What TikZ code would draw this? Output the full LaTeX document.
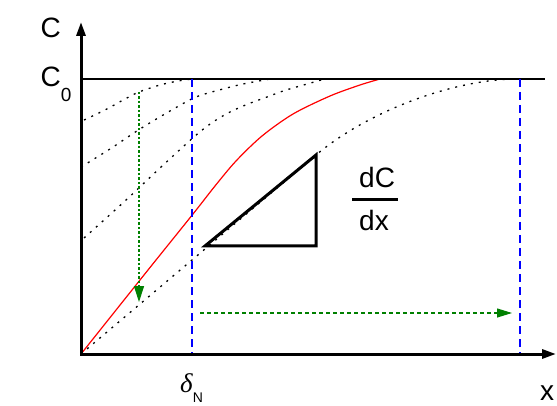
\documentclass[tikz,border=0pt]{standalone}
\usepackage{fontspec}
\setmainfont{Liberation Sans}
\newfontfamily\greekserif{Liberation Serif}
\usetikzlibrary{arrows.meta}

\definecolor{profgreen}{RGB}{0,128,0}

\tikzset{
  axis/.style={line width=3pt, line join=miter, {Triangle[length=14pt,width=9pt]}-{Triangle[length=14pt,width=9pt]}},
  profile/.style={line width=1.3pt, dash pattern=on 2pt off 6pt},
  nernst/.style={blue, line width=1.4pt, dash pattern=on 8pt off 5pt},
  shiftdown/.style={profgreen, line width=1.2pt, dash pattern=on 2.5pt off 2pt, -{Triangle[length=16pt,width=10pt]}},
  shiftright/.style={profgreen, line width=1.1pt, dash pattern=on 4pt off 3pt, -{Triangle[length=15pt,width=9pt]}},
  lbl/.style={anchor=base west, inner sep=0pt, font=\fontsize{28}{28}\selectfont},
}

\begin{document}
\begin{tikzpicture} [x=1pt,y=-1pt]

\useasboundingbox (0,0) rectangle (557,406);
%\draw [step=50, dotted] (0,0) grid (557,406);

\coordinate (O) at (81,354);
\coordinate (ytop) at (81,22);
\coordinate (xend) at (556,354);
\coordinate (c0left) at (81,79);
\coordinate (c0right) at (545,79);

% concentration profiles
\draw [profile] plot [smooth] coordinates {(84,120) (105,110) (125,99) (139,92) (160,85) (178,81) (192,79)};
\draw [profile] plot [smooth] coordinates {(81,167) (110,149) (140,129) (170,111) (196,97) (223,89) (243,84) (270,79)};
\draw [profile] plot [smooth] coordinates {(84,238) (125,201) (160,168) (195,136) (213,122) (230,112) (248,104) (267,97) (283,91) (300,86) (325,79)};
\draw [profile] (O) -- (316,155) .. controls (366,112.7) and (450,80) .. (515,79);

\draw [red, line width=1.2pt] plot [smooth, tension=0.5] coordinates {(81,354) (148,270) (193,214) (215,186) (236,161) (262,136) (293,114) (330,96) (360,85) (380,79)};

\draw [line width=1.3pt] (c0left) -- (c0right);

\draw [nernst] (192,79) -- (192,354);
\draw [nernst] (520,79) -- (520,354);

\coordinate (topA) at (139,92);
\coordinate (botD) at (139,302);
\draw [shiftdown] (topA) -- (botD);
\coordinate (arrL) at (200,313);
\coordinate (arrR) at (512,313);
\draw [shiftright] (arrL) -- (arrR);

% slope triangle
\draw [line width=3pt, line join=miter] (205,246) -- (316,246) -- (316,155) -- cycle;

\draw [axis] (ytop) -- (O) -- (xend);

\node [lbl] (cax) at (40.5,38) {C};
\node [lbl] (czero) at (40.5,87) {C\raisebox{-15pt}{\fontsize{19}{19}\selectfont 0}};
\node [lbl] (xax) at (540,400) {x};
\node [lbl] (delta) at (180,392) {{\greekserif\itshape\fontsize{27}{27}\selectfont δ}\raisebox{-10pt}{\fontsize{14}{14}\selectfont N}};

\node [lbl] (dc) at (359,188) {dC};
\node [lbl] (dx) at (359,231) {dx};
\draw [line width=3pt] (352,200) -- (398,200);

\end{tikzpicture}
\end{document}
